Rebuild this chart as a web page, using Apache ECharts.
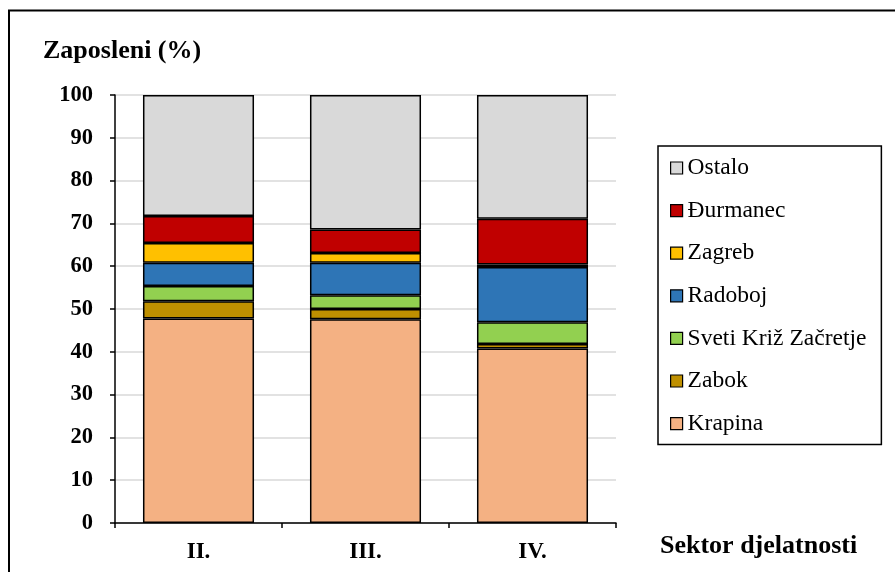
<!DOCTYPE html>
<html>
<head>
<meta charset="utf-8">
<script src="https://cdn.jsdelivr.net/npm/echarts@6/dist/echarts.min.js"></script>
<style>html,body{margin:0;padding:0;background:#fff}#c{width:895px;height:572px}</style>
</head>
<body>
<div id="c"></div>
<script>
const categories = ['II.', 'III.', 'IV.'];
const seriesNames = ['Krapina', 'Zabok', 'Sveti Križ Začretje', 'Radoboj', 'Zagreb', 'Đurmanec', 'Ostalo'];
const krapina = [47.8, 47.6, 40.8];
const zabok = [4.0, 2.4, 1.0];
const svetiKriz = [3.6, 3.2, 5.1];
const radoboj = [5.4, 7.6, 12.9];
const zagreb = [4.6, 2.3, 0.6];
const durmanec = [6.3, 5.5, 10.7];
const ostalo = [28.3, 31.4, 28.9];
const colors = ['#F4B183', '#BF9000', '#92D050', '#2E75B6', '#FFC000', '#C00000', '#D9D9D9'];
const values = [krapina, zabok, svetiKriz, radoboj, zagreb, durmanec, ostalo];
const yTicks = [0, 100, 10];

const font = '"Liberation Serif", "Times New Roman", serif';
const chart = echarts.init(document.getElementById('c'), null, {renderer: 'canvas'});
chart.setOption({
  animation: false,
  backgroundColor: '#fff',
  graphic: [{
    type: 'rect', shape: {x: 9, y: 10.5, width: 1000, height: 1000},
    style: {fill: 'none', stroke: '#000', lineWidth: 2}, z: 100, silent: true
  }],
  title: [
    {text: 'Zaposleni (%)', left: 43, top: 38, padding: 0,
     textStyle: {fontFamily: font, fontWeight: 'bold', fontSize: 26, color: '#000'}},
    {text: 'Sektor djelatnosti', left: 660, top: 533, padding: 0,
     textStyle: {fontFamily: font, fontWeight: 'bold', fontSize: 26, color: '#000'}}
  ],
  grid: {left: 115, right: 279, top: 95, bottom: 49, containLabel: false},
  legend: {
    orient: 'vertical', left: 658, top: 146,
    data: seriesNames.slice().reverse(),
    itemWidth: 12, itemHeight: 12, itemGap: 18.6,
    padding: [10, 15, 9, 12],
    borderColor: '#000', borderWidth: 1.5,
    icon: 'rect',
    itemStyle: {borderColor: '#000', borderWidth: 1.2},
    textStyle: {fontFamily: font, fontSize: 23.5, color: '#000'}
  },
  xAxis: {
    type: 'category', data: categories,
    axisLine: {lineStyle: {color: '#000', width: 1.5}},
    axisTick: {show: true, length: 5, lineStyle: {color: '#000', width: 1.5}},
    axisLabel: {fontFamily: font, fontWeight: 'bold', fontSize: 23, color: '#000', margin: 18}
  },
  yAxis: {
    type: 'value', min: yTicks[0], max: yTicks[1], interval: yTicks[2],
    axisLine: {show: true, lineStyle: {color: '#000', width: 1.5}},
    axisTick: {show: true, length: 5, lineStyle: {color: '#000', width: 1.5}},
    axisLabel: {fontFamily: font, fontWeight: 'bold', fontSize: 22.5, color: '#000', margin: 22},
    splitLine: {lineStyle: {color: '#D9D9D9', width: 1.5}}
  },
  series: seriesNames.map((n, i) => ({
    name: n, type: 'bar', stack: 'total', data: values[i],
    barWidth: '66.5%',
    itemStyle: {color: colors[i], borderColor: '#000', borderWidth: 1.5}
  }))
});
</script>
</body>
</html>
